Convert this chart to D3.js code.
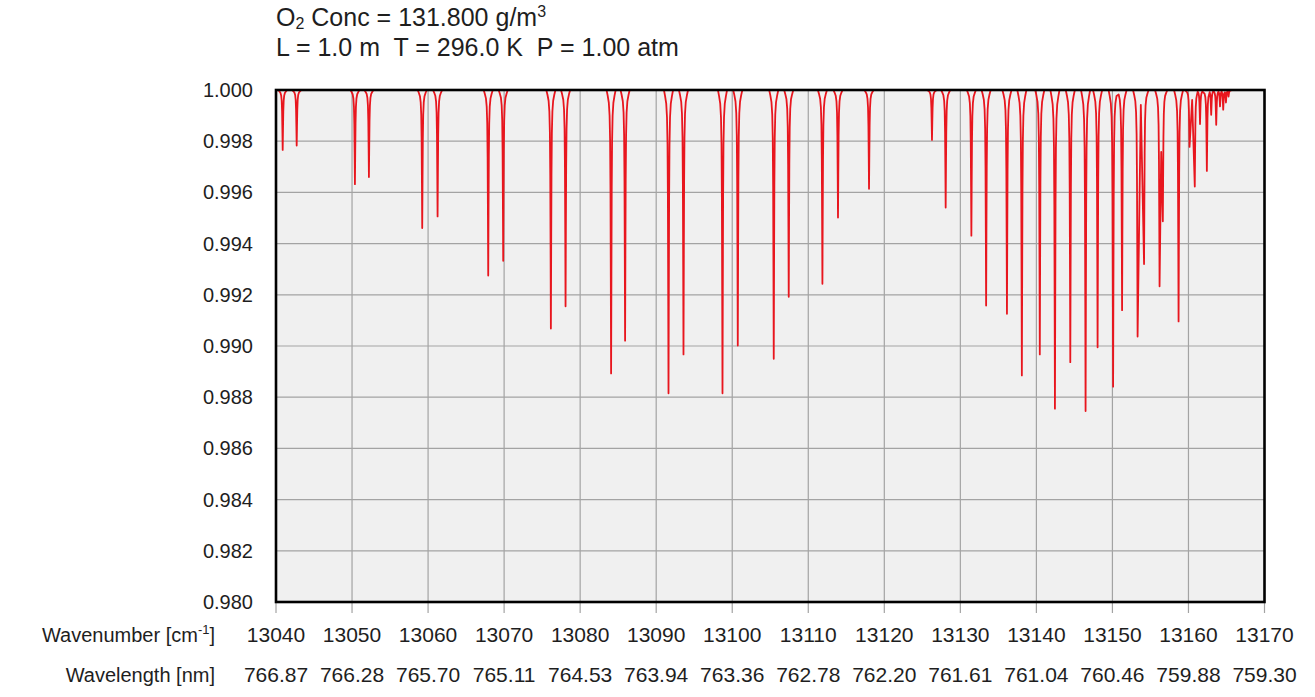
<!DOCTYPE html>
<html>
<head>
<meta charset="utf-8">
<script src="https://cdn.jsdelivr.net/npm/d3@7"></script>
<style>
  html, body { margin: 0; padding: 0; background: #ffffff; }
  svg { display: block; }
  text { font-family: "Liberation Sans", Arial, sans-serif; fill: #1e1e1e; }
</style>
</head>
<body>
<svg id="chart" width="1315" height="697"></svg>
<script>
// ---------------- data ----------------
const wavenumberTicks = [13040, 13050, 13060, 13070, 13080, 13090, 13100, 13110, 13120, 13130, 13140, 13150, 13160, 13170];
const wavelengthLabels = ["766.87", "766.28", "765.70", "765.11", "764.53", "763.94", "763.36", "762.78", "762.20", "761.61", "761.04", "760.46", "759.88", "759.30"];
const yTicks = [0.980, 0.982, 0.984, 0.986, 0.988, 0.990, 0.992, 0.994, 0.996, 0.998, 1.000];

// absorption line centres (cm^-1) and transmittance at line centre
const lineCenters = [
  13040.88, 13042.72, 13050.38, 13052.22, 13059.23, 13061.25, 13067.91, 13069.88,
  13076.15, 13078.08, 13084.07, 13085.91, 13091.62, 13093.59, 13098.72, 13100.73,
  13105.46, 13107.43, 13111.86, 13113.91, 13117.99, 13126.27, 13128.07, 13131.45,
  13133.39, 13136.13, 13138.09, 13140.45, 13142.44, 13144.46, 13146.47, 13148.05,
  13150.09, 13151.27, 13153.31, 13154.16, 13156.20, 13156.63, 13158.70, 13160.14,
  13160.83, 13161.52, 13162.42, 13162.99, 13163.65, 13164.15, 13164.57, 13164.93,
  13165.27
];
const lineMinima = [
  0.99766, 0.99783, 0.99632, 0.99660, 0.99461, 0.99506, 0.99275, 0.99333,
  0.99068, 0.99155, 0.98893, 0.99021, 0.98815, 0.98967, 0.98815, 0.99002,
  0.98950, 0.99192, 0.99243, 0.99502, 0.99614, 0.99805, 0.99541, 0.99431,
  0.99158, 0.99126, 0.98885, 0.98967, 0.98755, 0.98937, 0.98746, 0.98995,
  0.98841, 0.99140, 0.99037, 0.99320, 0.99233, 0.99487, 0.99096, 0.99778,
  0.99623, 0.99867, 0.99684, 0.99903, 0.99864, 0.99936, 0.99923, 0.99951,
  0.99974
];
// transmittance of the local maximum between a line and the previous one,
// when the two lines are blended (null = trace returns to the baseline)
const blendTops = [
  null, null, null, null, null, null, null, null,
  null, null, null, null, null, null, null, null,
  null, null, null, null, null, null, null, null,
  null, null, null, null, null, null, null, null,
  null, null, null, 0.99942, null, 0.99758, null, null,
  0.99961, null, null, null, null, null, null, null,
  null
];

// ---------------- layout / style ----------------
const X0 = 276, X1 = 1264.5, Y0 = 90, Y1 = 602;
const RED = "#e8161e";
// line wing shape (offset from centre in cm^-1, fraction of line depth)
const WING = [[0.6, 0], [0.45, 0.02], [0.3, 0.045], [0.2, 0.09], [0.13, 0.18], [0.08, 0.36], [0.04, 0.66]];

const svg = d3.select("#chart");
const x = d3.scaleLinear().domain([13040, 13170]).range([X0, X1]);
const y = d3.scaleLinear().domain([0.980, 1.000]).range([Y1, Y0]);

// plot background
svg.append("rect").attr("x", X0).attr("y", Y0).attr("width", X1 - X0).attr("height", Y1 - Y0)
  .attr("fill", "#f0f0f0");

// grid
svg.append("g").selectAll("line.v").data(wavenumberTicks).join("line")
  .attr("x1", d => x(d)).attr("x2", d => x(d)).attr("y1", Y0).attr("y2", Y1 + 11)
  .attr("stroke", "#a3a3a3").attr("stroke-width", 1.2);
svg.append("g").selectAll("line.h").data(yTicks).join("line")
  .attr("x1", X0).attr("x2", X1).attr("y1", d => y(d)).attr("y2", d => y(d))
  .attr("stroke", "#a3a3a3").attr("stroke-width", 1.2);

// spectrum trace
const pts = [[13040, 1]];
lineCenters.forEach((c, i) => {
  const m = lineMinima[i], d = 1 - m;
  const prevGap = i > 0 ? c - lineCenters[i - 1] : 10;
  const nextGap = i < lineCenters.length - 1 ? lineCenters[i + 1] - c : 10;
  if (blendTops[i] == null) {
    WING.filter(w => w[0] < prevGap / 2 || w === WING[WING.length - 1])
      .forEach(w => pts.push([c - Math.min(w[0], prevGap / 2), 1 - d * w[1]]));
  } else {
    pts.push([(c + lineCenters[i - 1]) / 2, blendTops[i]]);
  }
  pts.push([c, m]);
  const nextBlended = i < lineCenters.length - 1 && blendTops[i + 1] != null;
  if (!nextBlended) {
    WING.slice().reverse().filter(w => w[0] < nextGap / 2 || w === WING[WING.length - 1])
      .forEach(w => pts.push([c + Math.min(w[0], nextGap / 2), 1 - d * w[1]]));
  }
});
pts.push([13170, 1]);

svg.append("clipPath").attr("id", "clip").append("rect")
  .attr("x", X0).attr("y", Y0 - 1).attr("width", X1 - X0).attr("height", Y1 - Y0 + 1);
svg.append("path").datum(pts)
  .attr("clip-path", "url(#clip)")
  .attr("d", d3.line().x(d => x(d[0])).y(d => y(d[1])))
  .attr("fill", "none").attr("stroke", RED).attr("stroke-width", 1.8)
  .attr("stroke-linejoin", "round");

// frame
svg.append("rect").attr("x", X0).attr("y", Y0).attr("width", X1 - X0).attr("height", Y1 - Y0)
  .attr("fill", "none").attr("stroke", "#000").attr("stroke-width", 2.6);

// y tick labels
svg.append("g").selectAll("text").data(yTicks).join("text")
  .attr("x", 253).attr("y", d => y(d) + 7)
  .attr("text-anchor", "end").attr("font-size", 20)
  .text(d => d3.format(".3f")(d));

// x tick labels
svg.append("g").selectAll("text").data(wavenumberTicks).join("text")
  .attr("x", d => x(d)).attr("y", 642)
  .attr("text-anchor", "middle").attr("font-size", 21)
  .text(d => d);
svg.append("g").selectAll("text").data(wavelengthLabels).join("text")
  .attr("x", (d, i) => x(wavenumberTicks[i])).attr("y", 682)
  .attr("text-anchor", "middle").attr("font-size", 21)
  .text(d => d);

// row captions
const wn = svg.append("text").attr("x", 215).attr("y", 642).attr("text-anchor", "end").attr("font-size", 20);
wn.append("tspan").text("Wavenumber [cm");
wn.append("tspan").attr("dy", -8).attr("font-size", 13).text("-1");
wn.append("tspan").attr("dy", 8).text("]");
svg.append("text").attr("x", 215).attr("y", 682).attr("text-anchor", "end").attr("font-size", 20)
  .text("Wavelength [nm]");

// title
const t1 = svg.append("text").attr("x", 276).attr("y", 26).attr("font-size", 25);
t1.append("tspan").text("O");
t1.append("tspan").attr("dy", 3).attr("font-size", 16).text("2");
t1.append("tspan").attr("dy", -3).text(" Conc = 131.800 g/m");
t1.append("tspan").attr("dy", -9).attr("font-size", 16).text("3");
svg.append("text").attr("x", 276).attr("y", 56).attr("font-size", 25)
  .attr("xml:space", "preserve").style("white-space", "pre")
  .text("L = 1.0 m  T = 296.0 K  P = 1.00 atm");
</script>
</body>
</html>
